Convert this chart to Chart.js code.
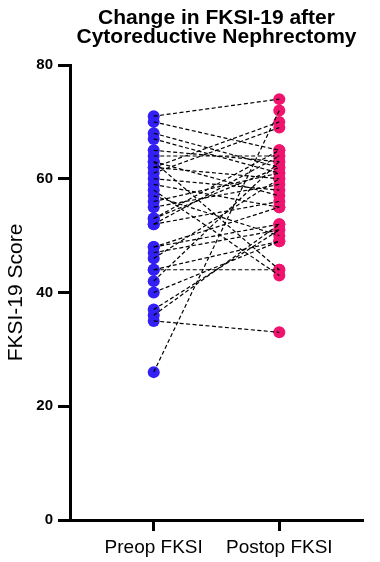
<!DOCTYPE html>
<html>
<head>
<meta charset="utf-8">
<script src="https://cdn.jsdelivr.net/npm/chart.js@4/dist/chart.umd.min.js"></script>
<style>
html,body{margin:0;padding:0;background:#fff;}
#wrap{position:relative;width:380px;height:562px;}
</style>
</head>
<body>
<div id="wrap"><canvas id="c" width="380" height="562"></canvas></div>
<script>
const titleLines = ["Change in FKSI-19 after", "Cytoreductive Nephrectomy"];
const categories = ["Preop FKSI", "Postop FKSI"];
const yTicks = [0, 20, 40, 60, 80];
const yTitle = "FKSI-19 Score";
const preop  = [71, 70, 68, 67, 65, 64, 63, 63, 62, 62, 61, 60, 59, 58, 57, 56, 55, 53, 53, 52, 52, 48, 48, 47, 46, 44, 44, 42, 40, 37, 36, 35, 26];
const postop = [74, 65, 62, 61, 63, 64, 57, 44, 70, 60, 69, 58, 55, 43, 50, 61, 59, 65, 62, 64, 56, 52, 55, 51, 60, 44, 49, 63, 49, 51, 52, 33, 72];

const FONT = '"Liberation Sans", Arial, Helvetica, sans-serif';

const lineSets = preop.map((p, i) => ({
  type: 'line',
  data: [{x: 1, y: p}, {x: 2, y: postop[i]}],
  borderColor: '#000',
  borderWidth: 1.2,
  borderDash: [4, 2.5],
  pointRadius: 0,
  fill: false,
  order: 0
}));

const titlePlugin = {
  id: 'centerTitle',
  afterDraw(chart) {
    const ctx = chart.ctx;
    const ca = chart.chartArea;
    const cx = (ca.left + ca.right) / 2;
    ctx.save();
    ctx.fillStyle = '#000';
    ctx.font = 'bold 21px ' + FONT;
    ctx.textAlign = 'center';
    ctx.textBaseline = 'alphabetic';
    ctx.fillText(titleLines[0], cx, 23.5);
    ctx.fillText(titleLines[1], cx, 43);
    ctx.restore();
  }
};

new Chart(document.getElementById('c'), {
  type: 'scatter',
  data: {
    datasets: [
      ...lineSets,
      {
        type: 'scatter',
        data: preop.map(v => ({x: 1, y: v})),
        backgroundColor: '#3320f5',
        borderColor: '#3320f5',
        pointRadius: 6,
        pointBorderWidth: 0,
        order: 1
      },
      {
        type: 'scatter',
        data: postop.map(v => ({x: 2, y: v})),
        backgroundColor: '#f0146e',
        borderColor: '#f0146e',
        pointRadius: 6,
        pointBorderWidth: 0,
        order: 1
      }
    ]
  },
  plugins: [titlePlugin],
  options: {
    responsive: false,
    animation: false,
    devicePixelRatio: 1,
    layout: { padding: { top: 65, right: 17, bottom: 0, left: 0 } },
    plugins: {
      legend: { display: false },
      tooltip: { enabled: false },
      title: { display: false }
    },
    scales: {
      x: {
        type: 'linear',
        min: 1/3,
        max: 8/3,
        afterBuildTicks(scale) { scale.ticks = [{value: 1}, {value: 2}]; },
        afterFit(scale) { scale.height = 42; },
        ticks: {
          autoSkip: false,
          maxRotation: 0,
          padding: 5,
          color: '#000',
          font: { family: FONT, size: 19 },
          callback(v) { return v === 1 ? categories[0] : (v === 2 ? categories[1] : ''); }
        },
        grid: {
          drawOnChartArea: false,
          drawTicks: true,
          tickLength: 11,
          tickWidth: 3,
          tickColor: '#000',
          color: '#000'
        },
        border: { display: true, color: '#000', width: 3 }
      },
      y: {
        type: 'linear',
        min: 0,
        max: 80,
        afterBuildTicks(scale) { scale.ticks = yTicks.map(v => ({value: v})); },
        afterFit(scale) { scale.width = 70; },
        ticks: {
          padding: 5,
          color: '#000',
          font: { family: FONT, size: 15, weight: 'bold' }
        },
        grid: {
          drawOnChartArea: false,
          drawTicks: true,
          tickLength: 12,
          tickWidth: 3,
          tickColor: '#000',
          color: '#000'
        },
        border: { display: true, color: '#000', width: 3 },
        title: {
          display: true,
          text: yTitle,
          color: '#000',
          font: { family: FONT, size: 21 },
          padding: { top: 4, bottom: 0 }
        }
      }
    }
  }
});
</script>
</body>
</html>
